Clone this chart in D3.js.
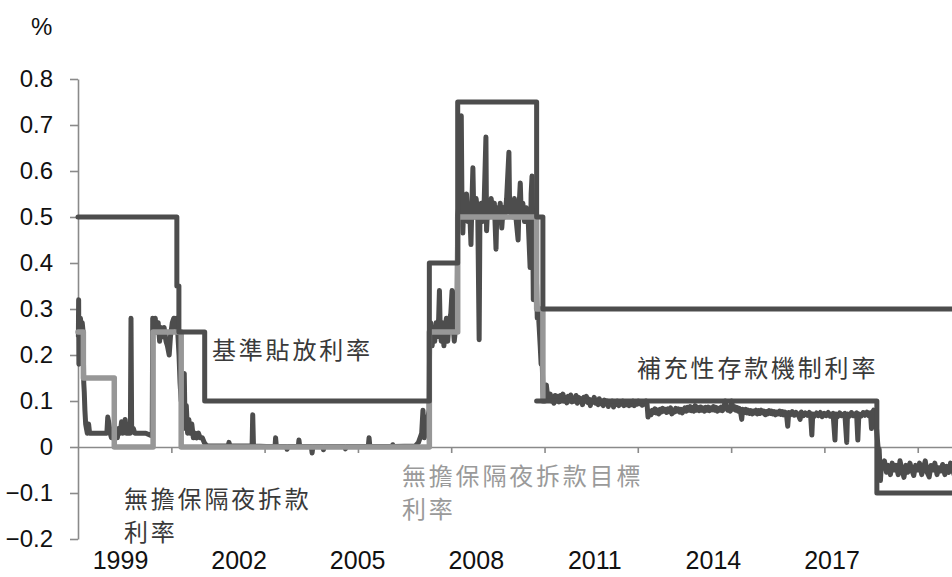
<!DOCTYPE html>
<html>
<head>
<meta charset="utf-8">
<script src="https://cdn.jsdelivr.net/npm/d3@7"></script>
<style>
  html, body { margin: 0; padding: 0; background: #fff; }
  svg { display: block; }
</style>
</head>
<body>
<svg id="chart" width="952" height="577"></svg>
<script>
// ---------------- DATA ----------------
const yTicks = [-0.2, -0.1, 0, 0.1, 0.2, 0.3, 0.4, 0.5, 0.6, 0.7, 0.8];
const xTickYears = [2001, 2003, 2005, 2007, 2009, 2011, 2013, 2015, 2017];
const xLabels = ["1999", "2002", "2005", "2008", "2011", "2014", "2017"];

// 基準貼放利率 (step)
const discountRate = [
  ["1999-01-01", 0.5], ["2001-02-13", 0.35], ["2001-03-01", 0.25], ["2001-09-19", 0.1],
  ["2006-07-14", 0.4], ["2007-02-21", 0.75], ["2008-10-31", 0.5], ["2008-12-19", 0.3],
  ["2018-01-01", 0.3]
];

// 無擔保隔夜拆款目標利率 (step)
const targetRate = [
  ["1999-01-01", 0.25], ["1999-02-12", 0.15], ["1999-10-12", 0], ["2000-08-11", 0.25],
  ["2001-03-19", 0], ["2006-07-14", 0.25], ["2007-02-21", 0.5], ["2008-10-31", 0.3],
  ["2008-12-19", 0.1]
];

// 補充性存款機制利率 (step)
const depositRate = [
  ["2008-10-31", 0.1], ["2016-02-16", -0.1], ["2018-01-01", -0.1]
];

// 無擔保隔夜拆款利率 (observed)
const callRate = [
  ["1999-01-04",0.24],["1999-01-06",0.32],["1999-01-08",0.18],["1999-01-13",0.27],["1999-01-20",0.28],
  ["1999-01-27",0.26],["1999-02-03",0.27],["1999-02-10",0.25],["1999-02-15",0.14],["1999-02-19",0.12],
  ["1999-02-24",0.08],["1999-03-02",0.05],["1999-03-08",0.04],["1999-03-15",0.03],["1999-03-25",0.05],
  ["1999-04-02",0.03],["1999-05-01",0.03],["1999-06-01",0.03],["1999-07-01",0.03],["1999-08-01",0.03],
  ["1999-08-15",0.03],["1999-08-22",0.065],["1999-09-01",0.05],["1999-09-10",0.03],["1999-09-20",0.02],
  ["1999-10-15",0.02],["1999-11-05",0.02],["1999-11-15",0.04],["1999-11-28",0.03],["1999-12-08",0.055],
  ["1999-12-18",0.03],["2000-01-05",0.06],["2000-01-15",0.03],["2000-02-15",0.03],["2000-02-20",0.28],
  ["2000-02-25",0.04],["2000-03-10",0.04],["2000-03-20",0.03],["2000-05-01",0.03],["2000-06-15",0.03],
  ["2000-07-25",0.025],["2000-08-04",0.03],["2000-08-08",0.28],["2000-08-20",0.26],["2000-08-28",0.28],
  ["2000-09-05",0.25],["2000-09-20",0.27],["2000-10-01",0.23],["2000-10-10",0.26],["2000-10-25",0.24],
  ["2000-11-05",0.26],["2000-11-20",0.23],["2000-12-01",0.22],["2000-12-15",0.2],["2000-12-25",0.24],
  ["2001-01-08",0.27],["2001-01-20",0.28],["2001-02-01",0.26],["2001-02-10",0.28],["2001-02-20",0.25],
  ["2001-03-02",0.2],["2001-03-10",0.14],["2001-03-19",0.1],["2001-03-28",0.12],["2001-04-05",0.04],
  ["2001-04-12",0.16],["2001-04-18",0.05],["2001-04-28",0.09],["2001-05-08",0.03],["2001-05-18",0.06],
  ["2001-05-28",0.03],["2001-06-10",0.05],["2001-06-22",0.02],["2001-07-05",0.03],["2001-07-18",0.02],
  ["2001-08-01",0.03],["2001-08-15",0.02],["2001-09-01",0.02],["2001-09-15",0.01],["2001-10-01",0.004],
  ["2001-10-15",0.002],["2002-01-10",0.002],["2002-03-22",0.002],["2002-03-28",0.01],["2002-04-05",0.002],
  ["2002-09-25",0.002],["2002-09-30",0.07],["2002-10-06",0.002],["2003-01-15",0.001],["2003-03-24",0.001],
  ["2003-03-28",0.02],["2003-04-03",0.001],["2003-06-20",0.001],["2003-06-26",-0.005],["2003-07-02",0.001],
  ["2003-09-22",0.001],["2003-09-27",0.015],["2003-10-03",0.001],["2004-01-02",0.001],["2004-01-08",-0.013],
  ["2004-01-14",0.001],["2004-04-01",0.001],["2004-04-06",-0.006],["2004-04-11",0.001],["2004-09-20",0.001],
  ["2004-09-25",-0.004],["2004-09-30",0.001],["2005-03-23",0.001],["2005-03-29",0.02],["2005-04-04",0.001],
  ["2005-09-25",0.001],["2005-09-30",0.005],["2005-10-05",0.001],["2006-03-25",0.002],["2006-04-20",0.01],
  ["2006-05-15",0.03],["2006-05-25",0.08],["2006-06-05",0.02],["2006-06-25",0.05],["2006-07-12",0.08],
  ["2006-07-17",0.25],["2006-07-25",0.27],["2006-08-05",0.22],["2006-08-15",0.26],["2006-08-25",0.23],
  ["2006-09-05",0.27],["2006-09-15",0.24],["2006-09-25",0.28],["2006-10-01",0.34],["2006-10-06",0.27],
  ["2006-10-15",0.23],["2006-10-25",0.27],["2006-11-05",0.22],["2006-11-15",0.26],["2006-11-25",0.28],
  ["2006-12-05",0.23],["2006-12-15",0.27],["2006-12-29",0.29],["2007-01-08",0.34],["2007-01-15",0.27],
  ["2007-01-25",0.23],["2007-02-05",0.26],["2007-02-15",0.28],
  ["2007-02-21",0.5],["2007-02-28",0.52],["2007-03-10",0.54],["2007-03-18",0.55],["2007-03-21",0.72],
  ["2007-03-26",0.54],["2007-04-02",0.465],["2007-04-10",0.53],["2007-04-20",0.51],["2007-05-01",0.55],
  ["2007-05-12",0.49],["2007-05-25",0.52],["2007-06-05",0.44],["2007-06-12",0.53],["2007-06-20",0.607],
  ["2007-06-26",0.52],["2007-07-05",0.5],["2007-07-15",0.54],["2007-07-28",0.51],["2007-08-08",0.233],
  ["2007-08-14",0.5],["2007-08-25",0.53],["2007-09-05",0.49],["2007-09-15",0.52],["2007-09-30",0.674],
  ["2007-10-05",0.47],["2007-10-15",0.53],["2007-10-28",0.5],["2007-11-10",0.54],["2007-11-22",0.51],
  ["2007-12-05",0.53],["2007-12-18",0.43],["2007-12-25",0.52],["2008-01-08",0.5],["2008-01-20",0.53],
  ["2008-02-01",0.476],["2008-02-12",0.52],["2008-02-25",0.5],["2008-03-10",0.54],["2008-03-28",0.641],
  ["2008-04-03",0.51],["2008-04-15",0.53],["2008-04-28",0.5],["2008-05-10",0.54],["2008-05-25",0.49],
  ["2008-06-08",0.45],["2008-06-15",0.52],["2008-06-25",0.574],["2008-07-02",0.51],["2008-07-15",0.53],
  ["2008-07-28",0.49],["2008-08-10",0.52],["2008-08-25",0.5],["2008-09-10",0.39],["2008-09-18",0.55],
  ["2008-09-25",0.589],["2008-09-30",0.49],["2008-10-05",0.32],["2008-10-12",0.45],["2008-10-20",0.42],
  ["2008-10-31",0.35],["2008-11-05",0.28],["2008-11-12",0.3],["2008-11-20",0.26],["2008-11-28",0.22],
  ["2008-12-05",0.18],["2008-12-12",0.2],["2008-12-20",0.12],["2008-12-26",0.1],
  ["2009-01-05",0.10],["2009-01-15",0.135],["2009-01-25",0.11],["2009-02-05",0.105],["2009-02-15",0.115],
  ["2009-02-25",0.1],["2009-03-05",0.108],["2009-03-15",0.095],["2009-03-25",0.112],["2009-04-05",0.1],
  ["2009-04-15",0.11],["2009-04-25",0.098],["2009-05-05",0.112],["2009-05-15",0.104],["2009-05-25",0.115],
  ["2009-06-05",0.1],["2009-06-15",0.108],["2009-06-25",0.096],["2009-07-05",0.11],["2009-07-15",0.102],
  ["2009-07-25",0.113],["2009-08-05",0.098],["2009-08-15",0.106],["2009-08-25",0.1],["2009-09-05",0.112],
  ["2009-09-15",0.095],["2009-09-25",0.108],["2009-10-05",0.1],["2009-10-15",0.105],["2009-10-25",0.092],
  ["2009-11-05",0.108],["2009-11-15",0.1],["2009-11-25",0.11],["2009-12-05",0.097],["2009-12-15",0.104],
  ["2009-12-25",0.09],
  ["2010-01-05",0.102],["2010-01-15",0.097],["2010-01-25",0.108],["2010-02-05",0.095],["2010-02-15",0.1],
  ["2010-02-25",0.092],["2010-03-05",0.105],["2010-03-15",0.094],["2010-03-25",0.1],["2010-04-05",0.09],
  ["2010-04-15",0.102],["2010-04-25",0.095],["2010-05-05",0.1],["2010-05-15",0.088],["2010-05-25",0.098],
  ["2010-06-05",0.093],["2010-06-15",0.1],["2010-06-25",0.087],["2010-07-05",0.097],["2010-07-15",0.092],
  ["2010-07-25",0.1],["2010-08-05",0.09],["2010-08-15",0.097],["2010-08-25",0.093],["2010-09-05",0.1],
  ["2010-09-15",0.09],["2010-09-25",0.096],["2010-10-05",0.092],["2010-10-15",0.098],["2010-10-25",0.09],
  ["2010-11-05",0.096],["2010-11-15",0.092],["2010-11-25",0.1],["2010-12-05",0.09],["2010-12-15",0.097],
  ["2010-12-25",0.093],
  ["2011-01-05",0.1],["2011-01-15",0.094],["2011-01-25",0.098],["2011-02-05",0.091],["2011-02-15",0.097],
  ["2011-02-25",0.093],["2011-03-05",0.1],["2011-03-15",0.092],["2011-03-22",0.065],["2011-03-28",0.07],
  ["2011-04-05",0.078],["2011-04-15",0.07],["2011-04-25",0.08],["2011-05-05",0.075],["2011-05-15",0.083],
  ["2011-05-25",0.074],["2011-06-05",0.08],["2011-06-15",0.072],["2011-06-25",0.082],["2011-07-05",0.076],
  ["2011-07-15",0.084],["2011-07-25",0.078],["2011-08-05",0.082],["2011-08-15",0.075],["2011-08-25",0.083],
  ["2011-09-05",0.077],["2011-09-15",0.085],["2011-09-25",0.072],["2011-10-05",0.08],["2011-10-15",0.076],
  ["2011-10-25",0.084],["2011-11-05",0.078],["2011-11-15",0.083],["2011-11-25",0.076],["2011-12-05",0.082],
  ["2011-12-15",0.074],["2011-12-25",0.08],
  ["2012-01-05",0.085],["2012-01-15",0.078],["2012-01-25",0.086],["2012-02-05",0.08],["2012-02-15",0.088],
  ["2012-02-25",0.079],["2012-03-05",0.085],["2012-03-15",0.078],["2012-03-25",0.09],["2012-04-05",0.08],
  ["2012-04-15",0.086],["2012-04-25",0.079],["2012-05-05",0.087],["2012-05-15",0.08],["2012-05-25",0.085],
  ["2012-06-05",0.078],["2012-06-15",0.086],["2012-06-25",0.08],["2012-07-05",0.087],["2012-07-15",0.079],
  ["2012-07-25",0.085],["2012-08-05",0.081],["2012-08-15",0.088],["2012-08-25",0.08],["2012-09-05",0.086],
  ["2012-09-15",0.078],["2012-09-25",0.084],["2012-10-05",0.08],["2012-10-15",0.087],["2012-10-25",0.079],
  ["2012-11-05",0.085],["2012-11-15",0.1],["2012-11-25",0.088],["2012-12-05",0.08],["2012-12-15",0.086],
  ["2012-12-25",0.078],
  ["2013-01-05",0.1],["2013-01-15",0.082],["2013-01-25",0.088],["2013-02-05",0.08],["2013-02-15",0.086],
  ["2013-02-25",0.078],["2013-03-05",0.084],["2013-03-15",0.077],["2013-03-25",0.06],["2013-04-01",0.082],
  ["2013-04-15",0.075],["2013-04-25",0.082],["2013-05-05",0.074],["2013-05-15",0.08],["2013-05-25",0.073],
  ["2013-06-05",0.079],["2013-06-15",0.072],["2013-06-25",0.078],["2013-07-05",0.074],["2013-07-15",0.08],
  ["2013-07-25",0.072],["2013-08-05",0.079],["2013-08-15",0.073],["2013-08-25",0.08],["2013-09-05",0.074],
  ["2013-09-15",0.078],["2013-09-25",0.07],["2013-10-05",0.077],["2013-10-15",0.072],["2013-10-25",0.079],
  ["2013-11-05",0.073],["2013-11-15",0.078],["2013-11-25",0.072],["2013-12-05",0.077],["2013-12-15",0.07],
  ["2013-12-25",0.076],
  ["2014-01-05",0.072],["2014-01-15",0.078],["2014-01-25",0.071],["2014-02-05",0.077],["2014-02-15",0.07],
  ["2014-02-25",0.076],["2014-03-10",0.072],["2014-03-20",0.045],["2014-03-28",0.075],["2014-04-10",0.07],
  ["2014-04-25",0.077],["2014-05-10",0.069],["2014-05-25",0.075],["2014-06-10",0.07],["2014-06-25",0.06],
  ["2014-07-05",0.076],["2014-07-20",0.068],["2014-08-05",0.074],["2014-08-20",0.069],["2014-09-05",0.075],
  ["2014-09-15",0.07],["2014-09-25",0.026],["2014-10-02",0.072],["2014-10-15",0.067],["2014-11-01",0.074],
  ["2014-11-15",0.068],["2014-12-01",0.075],["2014-12-15",0.066],["2015-01-01",0.073],["2015-01-15",0.068],
  ["2015-02-01",0.075],["2015-02-15",0.067],["2015-03-10",0.073],["2015-03-25",0.015],["2015-04-01",0.072],
  ["2015-04-15",0.066],["2015-05-01",0.074],["2015-05-15",0.068],["2015-06-10",0.073],["2015-06-25",0.01],
  ["2015-07-01",0.072],["2015-07-15",0.067],["2015-08-01",0.075],["2015-08-15",0.068],["2015-09-10",0.074],
  ["2015-09-20",0.015],["2015-09-28",0.072],["2015-10-15",0.067],["2015-11-01",0.075],["2015-11-15",0.069],
  ["2015-12-01",0.076],["2015-12-15",0.068],["2015-12-28",0.074],["2016-01-05",0.04],["2016-01-12",0.075],
  ["2016-01-22",0.08],["2016-02-01",0.07],["2016-02-08",0.06],["2016-02-16",0.03],["2016-02-25",0.0],
  ["2016-03-05",-0.005],["2016-03-15",-0.073],["2016-03-22",-0.04],
  ["2016-04-01",-0.045],["2016-04-15",-0.03],["2016-05-01",-0.055],["2016-05-15",-0.04],["2016-06-01",-0.06],
  ["2016-06-15",-0.035],["2016-07-01",-0.05],["2016-07-15",-0.04],["2016-08-01",-0.06],["2016-08-15",-0.03],
  ["2016-09-01",-0.05],["2016-09-15",-0.066],["2016-10-01",-0.04],["2016-10-15",-0.055],["2016-11-01",-0.035],
  ["2016-11-15",-0.05],["2016-12-01",-0.062],["2016-12-15",-0.04],["2017-01-01",-0.05],["2017-01-15",-0.035],
  ["2017-02-01",-0.06],["2017-02-15",-0.045],["2017-03-01",-0.03],["2017-03-15",-0.055],["2017-04-01",-0.065],
  ["2017-04-15",-0.04],["2017-05-01",-0.05],["2017-05-15",-0.035],["2017-06-01",-0.06],["2017-06-15",-0.045],
  ["2017-07-01",-0.052],["2017-07-15",-0.038],["2017-08-01",-0.06],["2017-08-15",-0.042],["2017-09-01",-0.055],
  ["2017-09-15",-0.035],["2017-10-01",-0.05],["2017-10-15",-0.062],["2017-11-01",-0.04],["2017-11-15",-0.055],
  ["2017-12-01",-0.045],["2017-12-15",-0.05]
];

// ---------------- CHART ----------------
const W = 952, H = 577;
const svg = d3.select("#chart");
const parse = d3.timeParse("%Y-%m-%d");

const x = d3.scaleTime()
  .domain([new Date(1999, 0, 1), new Date(2018, 0, 1)])
  .range([78, 78 + 19 * 46.65]);
const y = d3.scaleLinear().domain([-0.2, 0.8]).range([539, 79]);
const xLab = d3.scalePoint().domain(xLabels).range([120.5, 832]);

const DARK = "#4d4d4d", LIGHT = "#979797", AXIS = "#8a8a8a";
const FONT_NUM = "'Liberation Sans', Arial, sans-serif";
const FONT_CJK = "'Noto Sans CJK TC', 'Noto Sans CJK SC', sans-serif";

svg.append("rect").attr("width", W).attr("height", H).attr("fill", "#fff");

// Y axis
const yAxis = svg.append("g")
  .attr("transform", "translate(78,0)")
  .call(d3.axisLeft(y).tickValues(yTicks).tickSize(8).tickSizeOuter(0).tickPadding(17)
    .tickFormat(d => Math.abs(d) < 1e-9 ? "0" : d3.format(".1f")(d)));
yAxis.selectAll("path, line").attr("stroke", AXIS).attr("stroke-width", 1.6);
yAxis.selectAll("text").attr("font-family", FONT_NUM).attr("font-size", 24).attr("fill", "#111");

// X axis at zero
const xAxis = svg.append("g")
  .attr("transform", `translate(0,${y(0)})`)
  .call(d3.axisBottom(x).tickValues(xTickYears.map(v => new Date(v, 0, 1)))
    .tickSize(6).tickSizeOuter(0).tickFormat(""));
xAxis.selectAll("path, line").attr("stroke", AXIS).attr("stroke-width", 1.6);

// X category labels
svg.append("g").selectAll("text").data(xLabels).join("text")
  .attr("x", d => xLab(d)).attr("y", 569)
  .attr("text-anchor", "middle")
  .attr("font-family", FONT_NUM).attr("font-size", 25).attr("fill", "#111")
  .text(d => d);

// % unit
svg.append("text").attr("x", 31).attr("y", 35)
  .attr("font-family", FONT_NUM).attr("font-size", 24).attr("fill", "#111").text("%");

const lineLin = d3.line().x(d => x(parse(d[0]))).y(d => y(d[1]));
const lineStep = d3.line().x(d => x(parse(d[0]))).y(d => y(d[1])).curve(d3.curveStepAfter);

const plot = svg.append("g");
function draw(data, gen, color, w) {
  plot.append("path").datum(data).attr("d", gen)
    .attr("fill", "none").attr("stroke", color).attr("stroke-width", w)
    .attr("stroke-linejoin", "round").attr("stroke-linecap", "round");
}
draw(callRate, lineLin, DARK, 5);
draw(targetRate, lineStep, LIGHT, 5.5);
draw(discountRate, lineStep, DARK, 5);
draw(depositRate, lineStep, DARK, 5);

// Annotations
const notes = [
  { t: "基準貼放利率", x: 212, y: 348.5, c: "#3a3a3a" },
  { t: "補充性存款機制利率", x: 637, y: 366.5, c: "#3a3a3a" },
  { t: "無擔保隔夜拆款目標", x: 402, y: 474, c: "#9a9a9a" },
  { t: "利率", x: 402, y: 507.5, c: "#9a9a9a" },
  { t: "無擔保隔夜拆款", x: 124, y: 497, c: "#3a3a3a" },
  { t: "利率", x: 124, y: 530, c: "#3a3a3a" }
];
svg.append("g").selectAll("text").data(notes).join("text")
  .attr("x", d => d.x).attr("y", d => d.y)
  .attr("dominant-baseline", "central")
  .attr("font-family", FONT_CJK).attr("font-size", 24)
  .attr("letter-spacing", "2.8px")
  .attr("fill", d => d.c)
  .text(d => d.t);
</script>
</body>
</html>
